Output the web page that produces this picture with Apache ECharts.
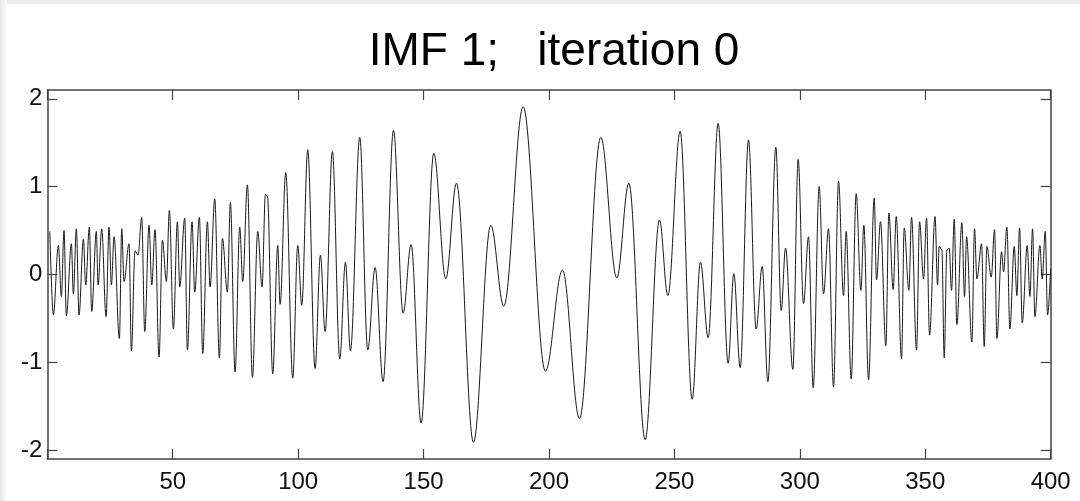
<!DOCTYPE html>
<html>
<head>
<meta charset="utf-8">
<script src="https://cdn.jsdelivr.net/npm/echarts@6/dist/echarts.min.js"></script>
<style>
html,body{margin:0;padding:0;background:#fff;}
#chart{width:1080px;height:501px;}
</style>
</head>
<body>
<div id="chart"></div>
<script>
// Sample positions (x) and values of the local extrema / notable points
const sampleX = [
1,2.42,4.41,5.61,6.67,7.60,9.60,10.39,11.59,12.65,14.38,15.31,16.77,17.70,19.56,20.23,21.69,23.42,24.61,25.55,
26.61,28.74,29.67,30.59,32.59,33.52,34.98,36.18,37.64,38.84,40.56,41.63,42.95,44.55,45.88,47.48,48.67,50.27,
51.86,52.79,54.78,55.85,57.71,58.77,60.63,61.96,63.82,64.89,66.75,68.61,69.80,71.80,72.99,74.85,76.71,77.91,
79.77,81.77,83.89,85.62,86.95,87.75,89.87,91.87,92.80,95.06,97.85,99.84,101.44,103.83,106.75,108.88,110.74,
113.66,116.59,118.85,120.84,124.56,127.75,130.67,133.86,137.99,141.84,145.03,149.01,154.07,158.85,163.11,
169.88,176.79,181.98,189.69,198.59,205.37,212.15,220.65,227.03,231.82,238.33,244.05,247.37,252.28,257.07,
260.39,263.45,267.44,271.42,273.68,276.21,279.53,282.59,284.98,287.24,290.43,292.56,294.29,297.21,299.33,
301.46,303.46,305.32,307.71,309.44,311.43,313.43,315.42,317.41,318.47,320.47,322.46,324.32,325.52,327.38,
329.64,330.57,332.16,334.29,335.49,337.21,338.41,340.54,341.60,343.46,344.53,346.52,347.72,349.31,350.51,
351.70,353.90,354.89,355.56,356.62,357.55,358.61,359.54,360.47,361.54,362.60,364.59,365.66,366.46,368.58,
369.64,370.57,372.44,373.50,374.56,376.29,377.62,378.55,380.41,381.21,382.54,383.73,385.46,386.52,387.59,
388.65,390.64,391.71,392.77,393.70,395.69,396.62,397.82,398.75,400
];
const imfValues = [
0.49,-0.46,0.33,-0.25,0.50,-0.47,0.35,-0.22,0.52,-0.46,0.40,-0.12,0.54,-0.42,0.49,-0.12,0.52,-0.48,0.54,-0.12,
0.43,-0.73,0.52,-0.08,0.35,-0.87,0.27,0.22,0.65,-0.65,0.56,-0.12,0.51,-0.94,0.39,-0.08,0.73,-0.62,
0.60,-0.14,0.64,-0.86,0.60,-0.20,0.65,-0.90,0.60,-0.14,0.86,-0.95,0.41,-0.20,0.82,-1.11,0.54,-0.08,
1.02,-1.17,0.49,-0.14,0.91,0.89,-1.13,0.33,-0.34,1.16,-1.18,0.33,-0.35,1.42,-1.07,0.22,-0.65,
1.40,-0.96,0.14,-0.87,1.56,-0.86,0.08,-1.22,1.64,-0.44,0.34,-1.69,1.38,-0.05,1.04,
-1.91,0.56,-0.36,1.91,-1.10,0.05,-1.64,1.56,-0.04,1.04,-1.88,0.62,-0.24,1.63,-1.42,
0.14,-0.72,1.72,-1.01,0.01,-1.06,1.53,-0.62,0.09,-1.22,1.45,-0.41,0.30,-1.08,1.31,
-0.33,0.43,-1.29,1.00,-0.22,0.52,-1.28,1.06,-0.24,0.49,-1.19,0.92,-0.18,0.56,-1.20,
0.87,-0.06,0.60,-0.81,0.70,-0.17,0.66,-0.96,0.53,-0.18,0.65,-0.86,0.60,-0.05,0.64,
-0.69,0.66,-0.12,0.32,0.28,-0.95,0.28,0.30,-0.18,0.63,-0.57,0.59,-0.25,0.43,-0.77,
0.52,-0.05,0.35,-0.82,0.32,-0.03,0.51,-0.73,0.26,0.03,0.54,-0.62,0.32,-0.24,0.53,
-0.55,0.33,-0.25,0.52,-0.48,0.33,-0.05,0.49,-0.46,0.07
];
const xTickLabels = ['50','100','150','200','250','300','350','400'];
const yTickValues = [-2,-1,0,1,2];
const titleText = 'IMF 1;   iteration 0';

const seriesData = sampleX.map((x, i) => [x, imfValues[i]]);
const fontFam = "'Liberation Sans Narrow','Arial Narrow','Liberation Sans',Arial,sans-serif";
const axisColor = '#444';

const chart = echarts.init(document.getElementById('chart'), null, {renderer: 'canvas'});
const xAxisBase = {
  type: 'value', min: 0, max: 400, interval: 50,
  axisLine: {show: true, onZero: false, lineStyle: {color: axisColor, width: 1.5}},
  axisTick: {show: true, inside: true, length: 10, lineStyle: {color: axisColor, width: 1.2}},
  splitLine: {show: false}
};
const yAxisBase = {
  type: 'value', min: -2.1, max: 2.1,
  axisLine: {show: true, onZero: false, lineStyle: {color: axisColor, width: 1.5}},
  axisTick: {show: true, inside: true, length: 10, customValues: yTickValues, lineStyle: {color: axisColor, width: 1.2}},
  splitLine: {show: false}
};
chart.setOption({
  animation: false,
  backgroundColor: '#fff',
  title: {
    text: titleText, left: 549, textAlign: 'center', top: 24,
    textStyle: {fontFamily: 'Liberation Sans, Arial, sans-serif', fontSize: 46, fontWeight: 'normal', color: '#000'}
  },
  graphic: [
    {type: 'rect', shape: {x: 0, y: 0, width: 1080, height: 4}, style: {fill: '#ececec'}, silent: true},
    {type: 'rect', shape: {x: 0, y: 0, width: 7, height: 501},
     style: {fill: new echarts.graphic.LinearGradient(0, 0, 1, 0, [{offset: 0, color: '#e6e6e6'}, {offset: 1, color: '#fbfbfb'}])}, silent: true}
  ],
  grid: {left: 47.3, right: 29.3, top: 90, bottom: 42, containLabel: false},
  xAxis: [
    Object.assign({}, xAxisBase, {
      position: 'bottom',
      axisLabel: {show: true, margin: 11, color: '#111', fontSize: 24, fontFamily: fontFam,
        formatter: v => (xTickLabels.indexOf(String(v)) >= 0 ? String(v) : '')}
    }),
    Object.assign({}, xAxisBase, {position: 'top', axisLabel: {show: false}})
  ],
  yAxis: [
    Object.assign({}, yAxisBase, {
      position: 'left',
      axisLabel: {show: true, margin: 5, color: '#111', fontSize: 24, fontFamily: fontFam, customValues: yTickValues,
        formatter: v => String(v)}
    }),
    Object.assign({}, yAxisBase, {position: 'right', axisLabel: {show: false}})
  ],
  series: [{
    type: 'line', data: seriesData, xAxisIndex: 0, yAxisIndex: 0,
    showSymbol: false, symbol: 'none',
    smooth: 0.36, smoothMonotone: 'x',
    lineStyle: {color: '#1a1a1a', width: 1}
  }]
});
</script>
</body>
</html>
